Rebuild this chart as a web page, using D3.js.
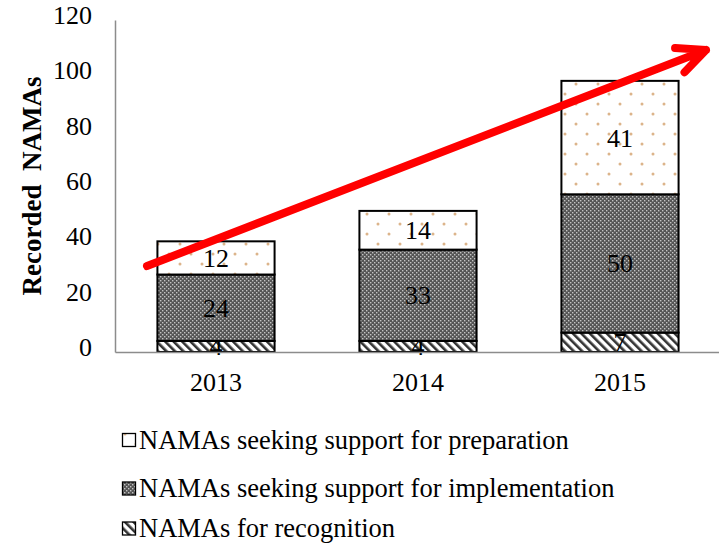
<!DOCTYPE html>
<html>
<head>
<meta charset="utf-8">
<script src="https://cdn.jsdelivr.net/npm/d3@7"></script>
<style>
  body { margin: 0; background: #fff; }
</style>
</head>
<body>
<svg width="719" height="544" font-family="Liberation Serif"></svg>
<script>
const years = ["2013", "2014", "2015"]
const recognition = [4, 4, 7]
const implementation = [24, 33, 50]
const preparation = [12, 14, 41]
const yTicks = [0, 20, 40, 60, 80, 100, 120]
const seriesNames = ["NAMAs seeking support for preparation", "NAMAs seeking support for implementation", "NAMAs for recognition"]

const serif = "Liberation Serif"
const svg = d3.select("svg")
const defs = svg.append("defs")

// dotted pattern for preparation
const pDots = defs.append("pattern").attr("id", "dots").attr("patternUnits", "userSpaceOnUse")
  .attr("width", 22).attr("height", 20)
pDots.append("rect").attr("width", 22).attr("height", 20).attr("fill", "#fff")
pDots.append("circle").attr("cx", 4).attr("cy", 4).attr("r", 1.5).attr("fill", "#dcb48a")
pDots.append("circle").attr("cx", 15).attr("cy", 14).attr("r", 1.5).attr("fill", "#dcb48a")

// checker pattern for implementation
const pChk = defs.append("pattern").attr("id", "checker").attr("patternUnits", "userSpaceOnUse")
  .attr("width", 4).attr("height", 4)
pChk.append("rect").attr("width", 4).attr("height", 4).attr("fill", "#555")
pChk.append("rect").attr("x", 0).attr("y", 0).attr("width", 1.4).attr("height", 1.4).attr("fill", "#c4c4c4")
pChk.append("rect").attr("x", 2).attr("y", 2).attr("width", 1.4).attr("height", 1.4).attr("fill", "#c4c4c4")

// diagonal hatch for recognition
const pHatch = defs.append("pattern").attr("id", "hatch").attr("patternUnits", "userSpaceOnUse")
  .attr("width", 6).attr("height", 6).attr("patternTransform", "rotate(-45)")
pHatch.append("rect").attr("width", 6).attr("height", 6).attr("fill", "#fff")
pHatch.append("rect").attr("width", 2.6).attr("height", 6).attr("fill", "#333")

const fills = {prep: "url(#dots)", impl: "url(#checker)", rec: "url(#hatch)"}

const x = d3.scaleBand().domain(years).range([115, 721]).paddingInner(0.42).paddingOuter(0.21)
const y = d3.scaleLinear().domain([0, 120]).range([352, 20])

// y axis
const yAxis = svg.append("g").attr("transform", "translate(115,0)")
  .call(d3.axisLeft(y).tickValues(yTicks).tickSize(0).tickPadding(23))
yAxis.attr("font-family", serif)
yAxis.select(".domain").attr("stroke", "#8c8c8c").attr("stroke-width", 1.5)
yAxis.selectAll("text").attr("font-size", 26).attr("fill", "#000").attr("dy", "0.13em")

svg.append("text")
  .attr("transform", "translate(41,186) rotate(-90)")
  .attr("text-anchor", "middle")
  .attr("font-family", serif)
  .attr("font-size", 27).attr("font-weight", "bold")
  .attr("xml:space", "preserve")
  .style("white-space", "pre")
  .text("Recorded  NAMAs")

// stacked bars
const rows = years.map((yr, i) => ({year: yr, rec: recognition[i], impl: implementation[i], prep: preparation[i]}))
const stack = d3.stack().keys(["rec", "impl", "prep"])(rows)

stack.forEach(layer => {
  const g = svg.append("g")
  g.selectAll("rect").data(layer).enter().append("rect")
    .attr("x", d => x(d.data.year))
    .attr("y", d => y(d[1]))
    .attr("width", x.bandwidth())
    .attr("height", d => y(d[0]) - y(d[1]))
    .attr("fill", fills[layer.key])
    .attr("stroke", "#000").attr("stroke-width", 2)
  g.selectAll("text").data(layer).enter().append("text")
    .attr("x", d => x(d.data.year) + x.bandwidth() / 2)
    .attr("y", d => (y(d[0]) + y(d[1])) / 2 + 9)
    .attr("text-anchor", "middle")
    .attr("font-family", serif)
    .attr("font-size", 26)
    .text(d => d[1] - d[0])
})

// x axis
const xAxis = svg.append("g").attr("transform", "translate(0,352)")
  .call(d3.axisBottom(x).tickSize(0).tickPadding(21))
xAxis.attr("font-family", serif)
xAxis.select(".domain").attr("stroke", "#8c8c8c").attr("stroke-width", 1.5)
xAxis.selectAll("text").attr("font-size", 26).attr("fill", "#000")

// trend arrow with chevron head
const arrowStart = [147, 266], arrowTip = [706, 50]
const ang = Math.atan2(arrowStart[1] - arrowTip[1], arrowStart[0] - arrowTip[0])
const armLen = 31, armAng = 25 * Math.PI / 180
const arm = s => [arrowTip[0] + armLen * Math.cos(ang + s * armAng), arrowTip[1] + armLen * Math.sin(ang + s * armAng)]
const line = d3.line()
svg.append("path")
  .attr("d", line([arrowStart, arrowTip]) + line([arm(1), arrowTip, arm(-1)]))
  .attr("fill", "none").attr("stroke", "#ff0000").attr("stroke-width", 8)
  .attr("stroke-linecap", "round").attr("stroke-linejoin", "round")

// legend
const legendFills = [fills.prep, fills.impl, fills.rec]
const ly = [440, 488.5, 528.5]
seriesNames.forEach((name, i) => {
  svg.append("rect").attr("x", 122.5).attr("y", ly[i] - 6.5).attr("width", 13).attr("height", 13)
    .attr("fill", legendFills[i]).attr("stroke", "#000").attr("stroke-width", 1.3)
  svg.append("text").attr("x", 139).attr("y", ly[i] + 8.5)
    .attr("font-family", serif)
    .attr("font-size", 26.5).text(name)
})
</script>
</body>
</html>
